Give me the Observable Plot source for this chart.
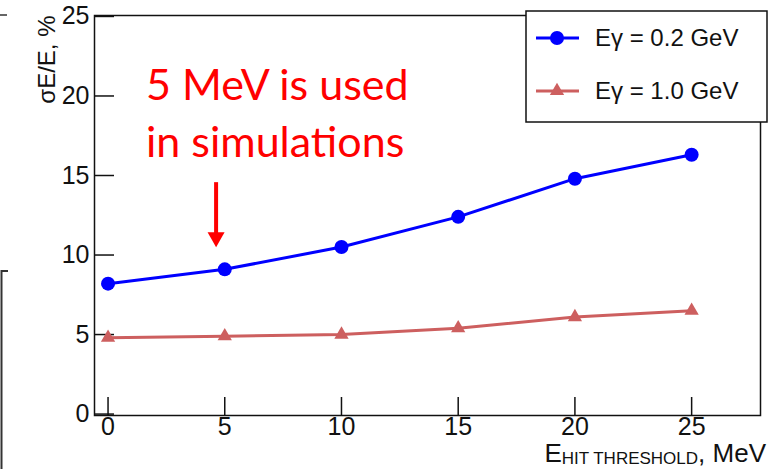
<!DOCTYPE html>
<html><head><meta charset="utf-8">
<script src="https://cdn.jsdelivr.net/npm/d3@7"></script>
<script src="https://cdn.jsdelivr.net/npm/@observablehq/plot@0.6"></script>
<style>body{margin:0;background:#fff} #chart svg{display:block}</style>
</head><body><div id="chart"></div>
<script>
// ---- data ----
const thresholds = [0, 5, 10, 15, 20, 25];
const res02 = [8.2, 9.1, 10.5, 12.4, 14.8, 16.3];
const res10 = [4.8, 4.9, 5.0, 5.4, 6.1, 6.5];
const seriesNames = ["Eγ = 0.2 GeV", "Eγ = 1.0 GeV"];
const seriesColors = ["#0000ff", "#cd5f5f"];
const seriesSymbols = ["circle", "triangle"];
const xTicks = [0, 5, 10, 15, 20, 25];
const yTicks = [0, 5, 10, 15, 20, 25];
const yLabel = "σE/E, %";
const xLabelMain = "E", xLabelSub = "HIT THRESHOLD", xLabelUnit = ", MeV";
const noteLines = ["5 MeV is used", "in simulations"];
const noteArrowX = 4.65, noteArrowFrom = 14.55, noteArrowTo = 10.45;

const data = [];
thresholds.forEach((t, i) => {
  data.push({t, v: res02[i], s: seriesNames[0]});
  data.push({t, v: res10[i], s: seriesNames[1]});
});

const W = 773, H = 469, mL = 94, mR = 13, mT = 15, mB = 54;
const pw = W - mL - mR, ph = H - mT - mB;

const plot = Plot.plot({
  width: W, height: H,
  marginLeft: mL, marginRight: mR, marginTop: mT, marginBottom: mB,
  style: {fontFamily: "'Liberation Sans', Arial, sans-serif", fontSize: "24px", background: "#fff", overflow: "visible"},
  x: {domain: [-0.58, 27.95]},
  y: {domain: [-0.09, 25.06]},
  color: {domain: seriesNames, range: seriesColors},
  symbol: {domain: seriesNames, range: seriesSymbols},
  marks: [
    Plot.tickY(yTicks, {y: d => d, insetRight: pw - 20, stroke: "#111", strokeWidth: 1.5}),
    Plot.tickX(xTicks, {x: d => d, insetTop: ph - 18, stroke: "#111", strokeWidth: 1.5}),
    Plot.axisY(yTicks, {tickSize: 0, tickPadding: 5, label: null, fill: "#111", fontSize: 25}),
    Plot.axisX(xTicks, {tickSize: 0, tickPadding: 2, label: null, fill: "#111", fontSize: 25}),
    Plot.line(data, {x: "t", y: "v", z: "s", stroke: "s", strokeWidth: 3}),
    Plot.dot(data.filter(d => d.s === seriesNames[0]), {x: "t", y: "v", fill: "s", symbol: "s", r: 7}),
    Plot.dot(data.filter(d => d.s === seriesNames[1]), {x: "t", y: "v", fill: "s", symbol: "s", r: 5.3}),
    Plot.frame({stroke: "#111", strokeWidth: 1.5}),
    Plot.text([yLabel], {frameAnchor: "top-left", rotate: -90, textAnchor: "end", dx: -57, dy: 0, fontSize: 24, fill: "#111"})
  ]
});

const svg = d3.select(plot);
const xs = plot.scale("x"), ys = plot.scale("y"), cs = plot.scale("color");

// x-axis label with subscript
const xl = svg.append("text").attr("x", 766).attr("y", 462).attr("text-anchor", "end")
  .attr("fill", "#111").style("font-size", "26px");
xl.append("tspan").text(xLabelMain);
xl.append("tspan").attr("dy", 2).style("font-size", "17px").text(xLabelSub);
xl.append("tspan").attr("dy", -2).text(xLabelUnit);

// legend
const lg = svg.append("g").attr("text-anchor", "start");
lg.append("rect").attr("x", 526).attr("y", 11).attr("width", 241).attr("height", 111)
  .attr("fill", "#fff").attr("stroke", "#111").attr("stroke-width", 1.5);
seriesNames.forEach((name, i) => {
  const yy = 38 + i * 53;
  lg.append("line").attr("x1", 536).attr("x2", 579).attr("y1", yy).attr("y2", yy)
    .attr("stroke", cs.apply(name)).attr("stroke-width", 3);
  const sym = d3.symbol(i === 0 ? d3.symbolCircle : d3.symbolTriangle, i === 0 ? Math.PI * 49 : Math.PI * 5.3 * 5.3);
  lg.append("path").attr("d", sym()).attr("transform", `translate(557,${yy})`).attr("fill", cs.apply(name));
  lg.append("text").attr("x", 595).attr("y", yy).attr("dy", "0.35em").attr("fill", "#111")
    .attr("text-anchor", "start").style("font-size", "24px").text(name);
});

// annotation
const ax = xs.apply(noteArrowX), ay1 = ys.apply(noteArrowFrom), ay2 = ys.apply(noteArrowTo);
svg.append("line").attr("x1", ax).attr("x2", ax).attr("y1", ay1).attr("y2", ay2 - 14)
  .attr("stroke", "#ff0000").attr("stroke-width", 4);
svg.append("path").attr("d", `M${ax - 8.5},${ay2 - 15}L${ax + 8.5},${ay2 - 15}L${ax},${ay2}Z`).attr("fill", "#ff0000");
const nt = svg.append("text").attr("fill", "#ff0000").attr("text-anchor", "start")
  .style("font-family", "Lato, 'Open Sans', sans-serif").style("font-size", "43px");
noteLines.forEach((l, i) => nt.append("tspan").attr("x", 146).attr("y", 100 + i * 57).text(l));

// remnants of a neighbouring figure at left edge
svg.append("path").attr("d", "M0,15H7").attr("stroke", "#333").attr("stroke-width", 1.5).attr("fill", "none");
svg.append("path").attr("d", "M8,271H1.5V469").attr("stroke", "#333").attr("stroke-width", 2).attr("fill", "none");

document.getElementById("chart").appendChild(plot);
</script></body></html>
